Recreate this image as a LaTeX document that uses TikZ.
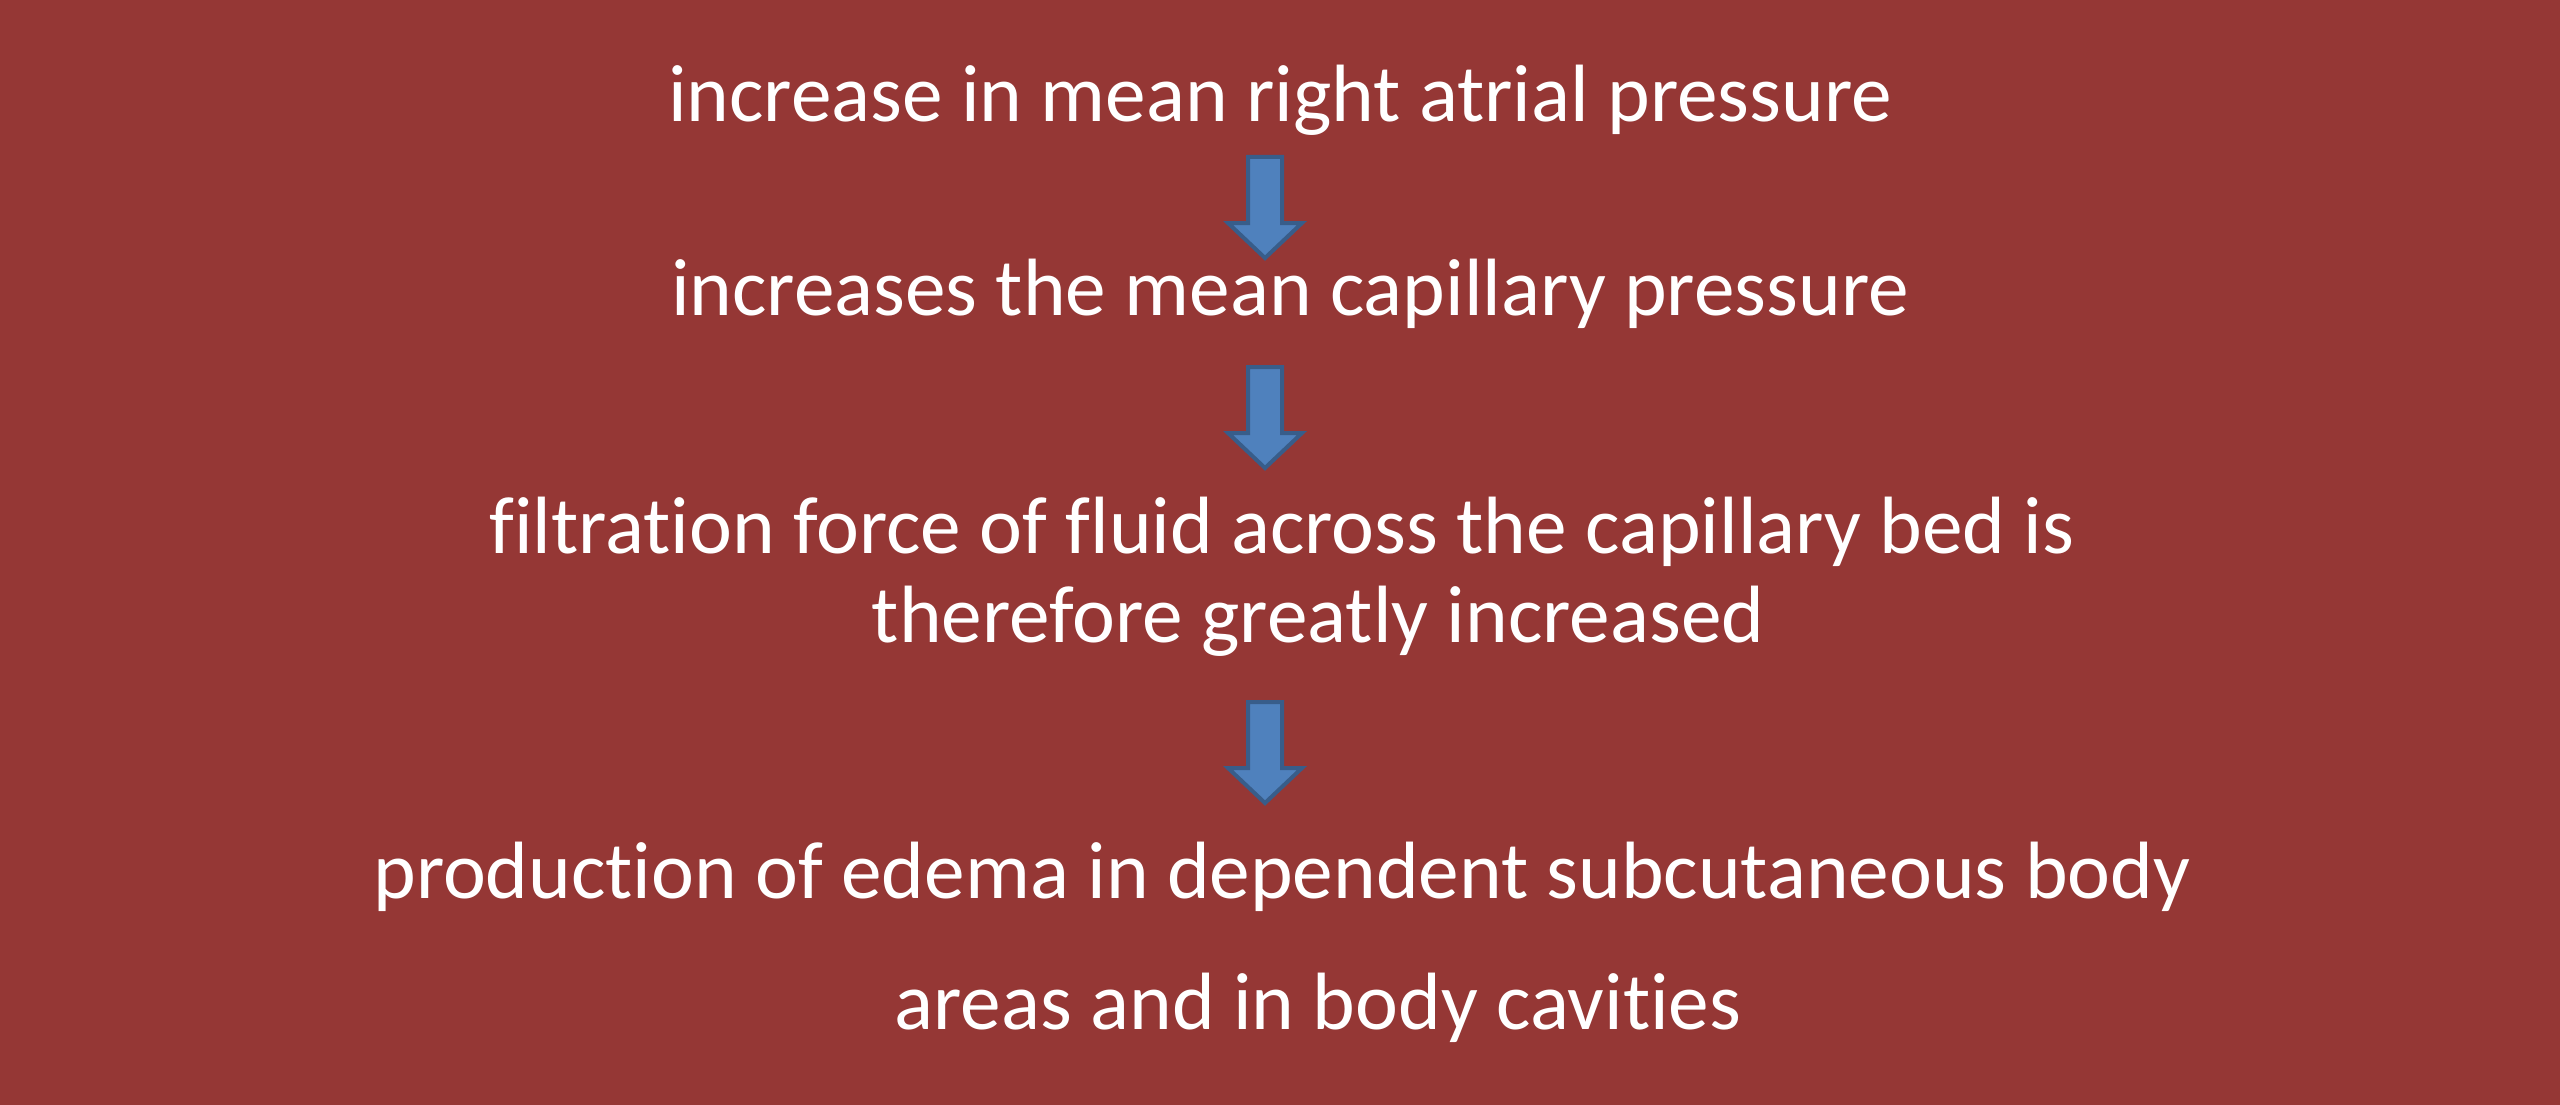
\documentclass[tikz,border=0pt]{standalone}
\usepackage{fontspec}
\setmainfont[Ligatures=NoCommon,RawFeature={-liga;-clig}]{Carlito}
\definecolor{bg}{HTML}{953735}
\definecolor{arrfill}{HTML}{4F81BD}
\definecolor{arrline}{HTML}{385D8A}
\begin{document}
\begin{tikzpicture}[x=1pt,y=-1pt,
  line/.style={text=white,font=\fontsize{81.3}{95}\selectfont,anchor=base,inner sep=0pt},
  blockarrow/.style={fill=arrfill,draw=arrline,line width=4pt,line join=miter}]
\fill[bg] (0,0) rectangle (2560,1105);
\useasboundingbox (0,0) rectangle (2560,1105);
\node[line] (l1) at (1280,122) {increase in mean right atrial pressure};
\node[line] (l2) at (1290,315) {increases the mean capillary pressure};
\node[line] (l3) at (1282,553) {filtration force of fluid across the capillary bed is};
\node[line] (l4) at (1318,642) {therefore greatly increased};
\node[line] (l5) at (1282,898) {production of edema in dependent subcutaneous body};
\node[line] (l6) at (1318,1029) {areas and in body cavities};
\foreach \t in {157,367,702}{
  \draw[blockarrow] (1248,\t) -- (1282,\t) -- (1282,\t+66) -- (1302,\t+66)
     -- (1265,\t+101) -- (1228,\t+66) -- (1248,\t+66) -- cycle;
}
\end{tikzpicture}
\end{document}
